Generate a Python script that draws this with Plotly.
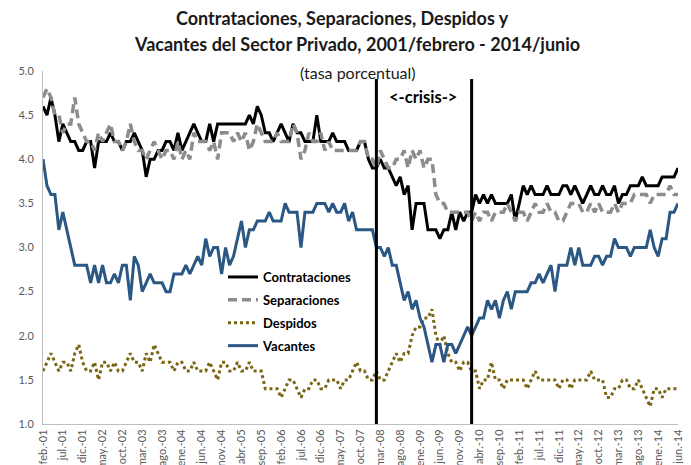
import plotly.graph_objects as go

# Monthly series, feb-2001 .. jun-2014 (161 months)
contrataciones = [
    4.6, 4.5, 4.7, 4.5, 4.2, 4.4, 4.3, 4.2, 4.2, 4.1, 4.1, 4.2,
    4.2, 3.9, 4.2, 4.2, 4.2, 4.3, 4.2, 4.2, 4.1, 4.2, 4.2, 4.3,
    4.2, 4.1, 3.8, 4.0, 4.0, 4.1, 4.1, 4.2, 4.2, 4.1, 4.3, 4.1,
    4.2, 4.3, 4.4, 4.3, 4.2, 4.2, 4.4, 4.2, 4.4, 4.4, 4.4, 4.4,
    4.4, 4.4, 4.4, 4.4, 4.5, 4.4, 4.6, 4.5, 4.3, 4.3, 4.2, 4.3,
    4.4, 4.3, 4.2, 4.4, 4.3, 4.3, 4.2, 4.2, 4.2, 4.5, 4.2, 4.2,
    4.2, 4.3, 4.2, 4.2, 4.2, 4.1, 4.1, 4.1, 4.2, 4.2, 4.0, 3.9,
    3.9, 4.0, 3.9, 3.9, 3.8, 3.7, 3.8, 3.6, 3.7, 3.2, 3.5, 3.5,
    3.5, 3.2, 3.2, 3.2, 3.1, 3.2, 3.2, 3.4, 3.2, 3.4, 3.3, 3.4,
    3.4, 3.6, 3.5, 3.6, 3.5, 3.6, 3.5, 3.5, 3.5, 3.5, 3.6, 3.3,
    3.5, 3.7, 3.6, 3.7, 3.6, 3.6, 3.6, 3.7, 3.6, 3.6, 3.6, 3.7,
    3.7, 3.6, 3.7, 3.6, 3.5, 3.6, 3.7, 3.6, 3.6, 3.7, 3.6, 3.6,
    3.7, 3.5, 3.6, 3.6, 3.7, 3.7, 3.7, 3.8, 3.7, 3.7, 3.7, 3.7,
    3.8, 3.8, 3.8, 3.8, 3.9,
]
separaciones = [
    4.7, 4.8, 4.7, 4.5, 4.5, 4.3, 4.4, 4.4, 4.7, 4.4, 4.3, 4.2,
    4.2, 4.1, 4.3, 4.2, 4.3, 4.4, 4.2, 4.2, 4.1, 4.2, 4.4, 4.2,
    4.1, 4.1, 4.0, 4.1, 4.2, 4.1, 4.0, 4.1, 4.1, 4.0, 4.2, 4.0,
    4.1, 4.0, 4.3, 4.2, 4.2, 4.2, 4.1, 4.2, 4.0, 4.3, 4.3, 4.3,
    4.2, 4.3, 4.2, 4.3, 4.1, 4.2, 4.4, 4.3, 4.2, 4.2, 4.2, 4.3,
    4.2, 4.2, 4.2, 4.4, 4.3, 4.0, 4.1, 4.3, 4.2, 4.2, 4.3, 4.1,
    4.2, 4.1, 4.1, 4.1, 4.1, 4.1, 4.1, 4.1, 4.2, 4.2, 4.0, 4.0,
    3.9, 4.1, 4.0, 3.9, 3.9, 4.0, 4.0, 4.1, 3.9, 4.1, 4.0, 4.1,
    3.9, 4.0, 4.0, 3.6, 3.5, 3.5, 3.4, 3.4, 3.4, 3.4, 3.4, 3.4,
    3.3, 3.4, 3.3, 3.4, 3.4, 3.3, 3.4, 3.4, 3.4, 3.5, 3.4, 3.3,
    3.4, 3.4, 3.3, 3.4, 3.5, 3.4, 3.4, 3.5, 3.4, 3.4, 3.3, 3.3,
    3.4, 3.5, 3.5, 3.5, 3.4, 3.4, 3.5, 3.4, 3.5, 3.4, 3.4, 3.4,
    3.5, 3.4, 3.5, 3.5, 3.5, 3.6, 3.6, 3.6, 3.6, 3.5, 3.6, 3.6,
    3.6, 3.6, 3.7, 3.6, 3.6,
]
despidos = [
    1.6, 1.7, 1.8, 1.7, 1.6, 1.7, 1.7, 1.6, 1.8, 1.9, 1.7, 1.6,
    1.6, 1.7, 1.5, 1.7, 1.7, 1.6, 1.7, 1.6, 1.6, 1.7, 1.8, 1.7,
    1.7, 1.6, 1.8, 1.7, 1.9, 1.8, 1.7, 1.7, 1.7, 1.6, 1.7, 1.7,
    1.6, 1.6, 1.7, 1.6, 1.6, 1.6, 1.7, 1.6, 1.5, 1.7, 1.7, 1.6,
    1.6, 1.7, 1.6, 1.6, 1.7, 1.6, 1.6, 1.6, 1.4, 1.4, 1.4, 1.4,
    1.3, 1.4, 1.5, 1.5, 1.4, 1.3, 1.4, 1.4, 1.5, 1.5, 1.4, 1.4,
    1.5, 1.5, 1.5, 1.4, 1.5, 1.5, 1.6, 1.7, 1.6, 1.6, 1.5, 1.5,
    1.6, 1.5, 1.5, 1.6, 1.7, 1.8, 1.7, 1.8, 1.8, 2.0, 2.1, 2.1,
    2.2, 2.2, 2.3, 2.0, 1.9, 2.0, 1.8, 1.7, 1.7, 1.6, 1.7, 1.7,
    1.6, 1.6, 1.4, 1.5, 1.5, 1.7, 1.5, 1.5, 1.4, 1.5, 1.5, 1.5,
    1.5, 1.5, 1.4, 1.5, 1.6, 1.5, 1.5, 1.5, 1.5, 1.5, 1.4, 1.5,
    1.5, 1.4, 1.5, 1.5, 1.5, 1.5, 1.6, 1.5, 1.5, 1.5, 1.3, 1.3,
    1.4, 1.4, 1.5, 1.5, 1.4, 1.4, 1.5, 1.4, 1.3, 1.2, 1.4, 1.4,
    1.3, 1.4, 1.4, 1.4, 1.4,
]
vacantes = [
    4.0, 3.7, 3.6, 3.6, 3.2, 3.4, 3.2, 3.0, 2.8, 2.8, 2.8, 2.8,
    2.6, 2.8, 2.6, 2.8, 2.6, 2.6, 2.7, 2.6, 2.8, 2.8, 2.4, 2.9,
    2.8, 2.5, 2.6, 2.7, 2.6, 2.6, 2.6, 2.5, 2.5, 2.7, 2.7, 2.7,
    2.8, 2.7, 2.8, 2.9, 2.8, 3.1, 2.9, 3.0, 3.0, 2.7, 3.0, 2.8,
    2.9, 3.1, 3.3, 3.0, 3.2, 3.2, 3.3, 3.3, 3.3, 3.4, 3.3, 3.3,
    3.3, 3.5, 3.4, 3.4, 3.4, 3.0, 3.4, 3.4, 3.4, 3.5, 3.5, 3.5,
    3.4, 3.5, 3.4, 3.4, 3.5, 3.3, 3.4, 3.2, 3.2, 3.2, 3.2, 3.2,
    3.0, 3.0, 2.9, 3.0, 2.8, 2.8, 2.6, 2.4, 2.5, 2.3, 2.4, 2.2,
    2.1, 1.9, 1.7, 1.9, 1.9, 1.7, 1.9, 1.9, 1.8, 1.9, 2.0, 2.1,
    2.0, 2.1, 2.2, 2.2, 2.4, 2.3, 2.4, 2.2, 2.4, 2.5, 2.3, 2.5,
    2.5, 2.5, 2.5, 2.6, 2.6, 2.7, 2.6, 2.7, 2.8, 2.5, 2.8, 2.8,
    2.8, 3.0, 2.8, 3.0, 2.8, 2.8, 2.8, 2.9, 2.9, 2.8, 2.9, 2.9,
    3.1, 3.0, 3.0, 3.0, 2.9, 3.0, 3.0, 3.0, 3.0, 3.2, 3.0, 2.9,
    3.1, 3.1, 3.4, 3.4, 3.5,
]

meses = ["ene.", "feb.", "mar.", "abr.", "may.", "jun.",
         "jul.", "ago.", "sep.", "oct.", "nov.", "dic."]
categorias = []
for k in range(161):
    m = (1 + k) % 12
    y = 1 + (1 + k) // 12
    categorias.append(f"{meses[m]}-{y:02d}")

tick_idx = list(range(0, 161, 5))
tick_labels = [categorias[k] for k in tick_idx]

crisis_inicio = 84
crisis_fin = 108

FONT = "Lato"
x = list(range(161))

# page pixels of the plot area (the page body adds an 8px offset)
PL, PR, PT, PB = 43, 678, 71, 424
OFF = 8
W, H = 691, 465


def px(xp):
    return (xp - PL) / (PR - PL)


def py(yp):
    return (PB - yp) / (PB - PT)


fig = go.Figure()
fig.add_trace(go.Scatter(x=x, y=contrataciones, name="Contrataciones", mode="lines",
                         legendgroup="a", line=dict(color="#000000", width=3)))
fig.add_trace(go.Scatter(x=x, y=separaciones, name="Separaciones", mode="lines",
                         legendgroup="b", line=dict(color="#8c8c8c", width=3.5, dash="9px,5px")))
fig.add_trace(go.Scatter(x=x, y=despidos, name="Despidos", mode="lines",
                         legendgroup="c", line=dict(color="#7a6512", width=3, dash="3px,3px")))
fig.add_trace(go.Scatter(x=x, y=vacantes, name="Vacantes", mode="lines",
                         legendgroup="d", line=dict(color="#2a5783", width=3)))

for xc in (crisis_inicio, crisis_fin):
    fig.add_shape(type="line", xref="x", yref="y", x0=xc, x1=xc, y0=1, y1=4.91,
                  line=dict(color="#000000", width=3))

fig.add_annotation(xref="paper", yref="paper", x=px(423), y=py(97), text="<b><-crisis-></b>",
                   xanchor="center", yanchor="middle",
                   showarrow=False, font=dict(family=FONT, size=16.5, color="#000000"))

fig.add_annotation(xref="paper", yref="paper", x=px(342), y=py(18),
                   xanchor="center", yanchor="middle",
                   text="<b>Contrataciones, Separaciones, Despidos y</b>",
                   showarrow=False, font=dict(family=FONT, size=18, color="#1a1a1a"))
fig.add_annotation(xref="paper", yref="paper", x=px(357), y=py(44),
                   xanchor="center", yanchor="middle",
                   text="<b>Vacantes del Sector Privado, 2001/febrero - 2014/junio</b>",
                   showarrow=False, font=dict(family=FONT, size=18, color="#1a1a1a"))
fig.add_annotation(xref="paper", yref="paper", x=px(358), y=py(72),
                   xanchor="center", yanchor="middle",
                   text="(tasa porcentual)",
                   showarrow=False, font=dict(family=FONT, size=16, color="#1a1a1a"))

fig.update_layout(
    width=W, height=H,
    margin=dict(l=PL - OFF, r=W + OFF - PR, t=PT - OFF, b=H + OFF - PB),
    paper_bgcolor="white", plot_bgcolor="white",
    font=dict(family=FONT, color="#595959"),
    showlegend=True,
    legend=dict(x=px(223), y=py(262), xanchor="left", yanchor="top",
                bgcolor="rgba(0,0,0,0)", tracegroupgap=3, itemwidth=30,
                font=dict(family=FONT, size=13, color="#000000", weight="bold")),
    xaxis=dict(range=[0, 160], tickmode="array", tickvals=tick_idx, ticktext=tick_labels,
               tickangle=-90, showgrid=False, zeroline=False, showline=True,
               linecolor="#bfbfbf", linewidth=1, ticks="", automargin=False,
               tickfont=dict(family=FONT, size=11, color="#595959")),
    yaxis=dict(range=[1, 5], tickmode="array", tickvals=[1, 1.5, 2, 2.5, 3, 3.5, 4, 4.5, 5],
               tickformat=".1f", showgrid=False, zeroline=False, showline=True,
               linecolor="#bfbfbf", linewidth=1, ticks="", automargin=False,
               ticklabelstandoff=6,
               tickfont=dict(family=FONT, size=11, color="#595959")),
)

fig.write_html("out.html")
